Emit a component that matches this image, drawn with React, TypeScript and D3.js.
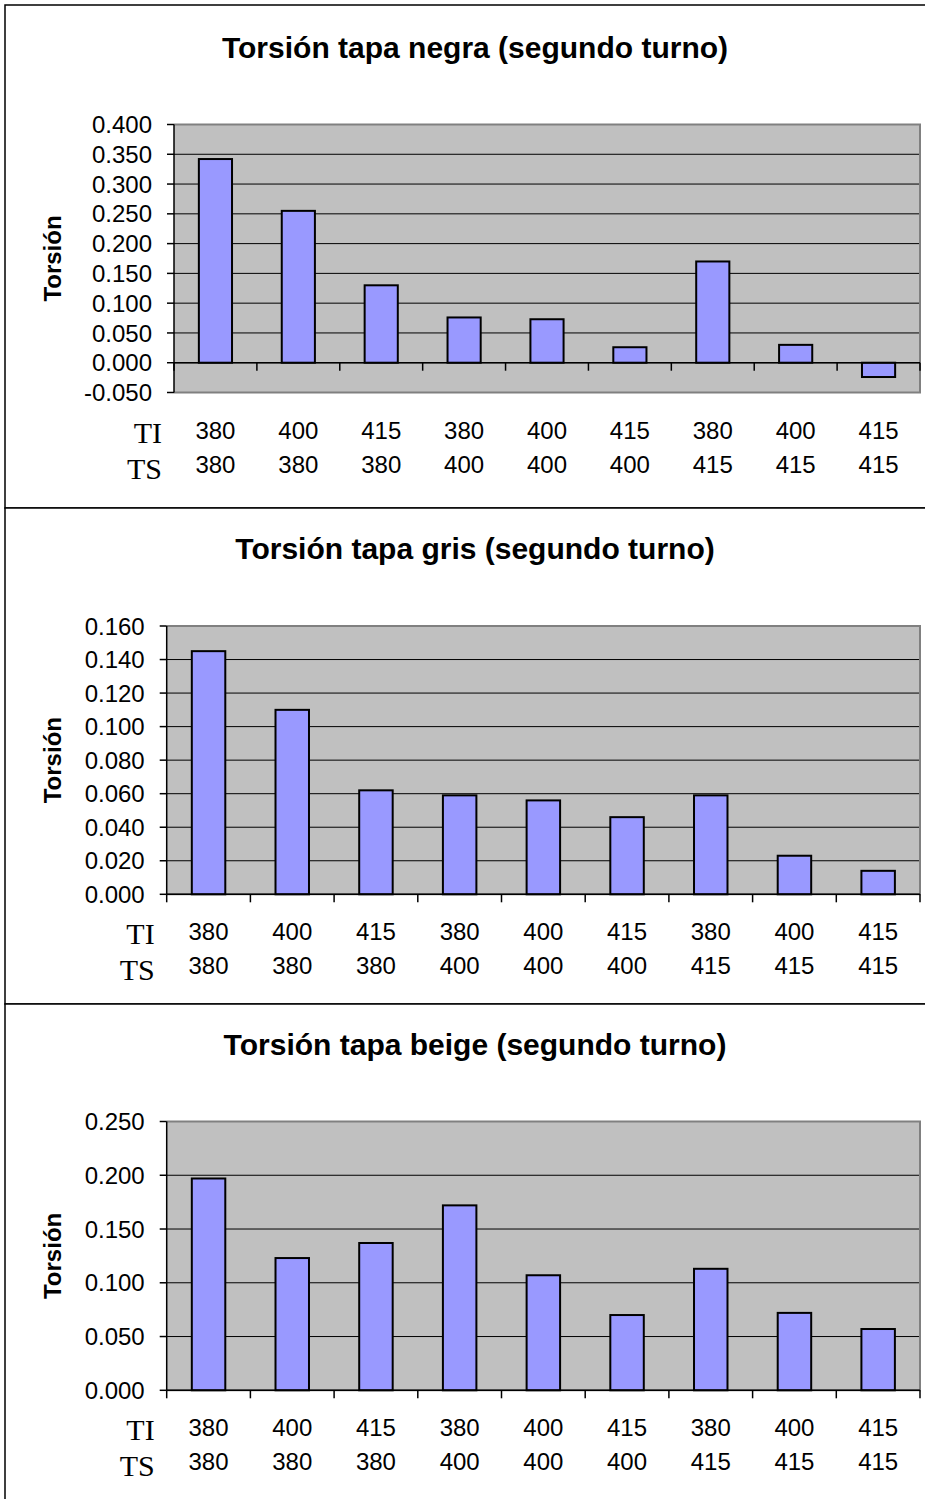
import React from "react";
import * as d3 from "d3";

const categoriesTI = ["380", "400", "415", "380", "400", "415", "380", "400", "415"];
const categoriesTS = ["380", "380", "380", "400", "400", "400", "415", "415", "415"];

const negraTitle = "Torsión tapa negra (segundo turno)";
const negraValues = [0.342, 0.255, 0.13, 0.076, 0.073, 0.026, 0.17, 0.03, -0.024];
const negraTicks = [-0.05, 0, 0.05, 0.1, 0.15, 0.2, 0.25, 0.3, 0.35, 0.4];

const grisTitle = "Torsión tapa gris (segundo turno)";
const grisValues = [0.145, 0.11, 0.062, 0.059, 0.056, 0.046, 0.059, 0.023, 0.014];
const grisTicks = [0, 0.02, 0.04, 0.06, 0.08, 0.1, 0.12, 0.14, 0.16];

const beigeTitle = "Torsión tapa beige (segundo turno)";
const beigeValues = [0.197, 0.123, 0.137, 0.172, 0.107, 0.07, 0.113, 0.072, 0.057];
const beigeTicks = [0, 0.05, 0.1, 0.15, 0.2, 0.25];

const yAxisTitle = "Torsión";
const rowLabels = ["TI", "TS"];

const W = 925;
const H = 1499;
const SANS = "'Liberation Sans', Arial, sans-serif";
const SERIF = "'Liberation Serif', 'Times New Roman', serif";

type ChartProps = {
  title: string;
  values: number[];
  ticks: number[];
  frameTop: number;
  frameBottom: number;
  left: number;
  top: number;
  bottom: number;
};

function Chart({ title, values, ticks, frameTop, frameBottom, left, top, bottom }: ChartProps) {
  const right = 920;
  const n = values.length;
  const x = d3
    .scaleBand<number>()
    .domain(d3.range(n))
    .range([left, right])
    .paddingInner(0.6)
    .paddingOuter(0.3);
  const step = (right - left) / n;
  const y = d3
    .scaleLinear()
    .domain([ticks[0], ticks[ticks.length - 1]])
    .range([bottom, top]);
  const f3 = d3.format(".3f");
  const fmt = (t: number) => f3(t).replace("\u2212", "-");
  const y0 = y(0);
  const centerX = (i: number) => (x(i) as number) + x.bandwidth() / 2;

  return (
    <g>
      <rect
        x={5}
        y={frameTop}
        width={W + 20}
        height={frameBottom - frameTop}
        fill="#fff"
        stroke="#000"
        strokeWidth={1.5}
      />
      <text
        x={475}
        y={top - 67}
        textAnchor="middle"
        fontFamily={SANS}
        fontWeight="bold"
        fontSize={30}
        fill="#000"
      >
        {title}
      </text>
      {/* plot background */}
      <rect x={left} y={top} width={right - left} height={bottom - top} fill="#c0c0c0" />
      {/* gridlines */}
      {ticks.slice(1, -1).map((t) => (
        <line key={"g" + t} x1={left} x2={right} y1={y(t)} y2={y(t)} stroke="#000" strokeWidth={1} />
      ))}
      {/* plot border */}
      <path
        d={`M${left},${top}H${right}V${bottom}H${left}`}
        fill="none"
        stroke="#808080"
        strokeWidth={2}
      />
      {/* bars */}
      {values.map((v, i) => (
        <rect
          key={"b" + i}
          x={x(i)}
          y={Math.min(y(v), y0)}
          width={x.bandwidth()}
          height={Math.abs(y(v) - y0)}
          fill="#9999ff"
          stroke="#000"
          strokeWidth={2}
        />
      ))}
      {/* y axis */}
      <line x1={left} x2={left} y1={top} y2={bottom} stroke="#000" strokeWidth={1.5} />
      {ticks.map((t) => (
        <g key={"yt" + t}>
          <line x1={left - 7} x2={left} y1={y(t)} y2={y(t)} stroke="#000" strokeWidth={1.5} />
          <text
            x={left - 22}
            y={y(t)}
            dy="0.36em"
            textAnchor="end"
            fontFamily={SANS}
            fontSize={24}
            fill="#000"
          >
            {fmt(t)}
          </text>
        </g>
      ))}
      {/* x axis */}
      <line x1={left} x2={right} y1={y0} y2={y0} stroke="#000" strokeWidth={1.5} />
      {d3.range(n + 1).map((i) => (
        <line
          key={"xt" + i}
          x1={left + i * step}
          x2={left + i * step}
          y1={y0}
          y2={y0 + 8}
          stroke="#000"
          strokeWidth={1.5}
        />
      ))}
      {/* category labels */}
      {categoriesTI.map((c, i) => (
        <text
          key={"ti" + i}
          x={centerX(i)}
          y={bottom + 46}
          textAnchor="middle"
          fontFamily={SANS}
          fontSize={24}
          fill="#000"
        >
          {c}
        </text>
      ))}
      {categoriesTS.map((c, i) => (
        <text
          key={"ts" + i}
          x={centerX(i)}
          y={bottom + 80}
          textAnchor="middle"
          fontFamily={SANS}
          fontSize={24}
          fill="#000"
        >
          {c}
        </text>
      ))}
      <text x={left - 12} y={bottom + 50} textAnchor="end" fontFamily={SERIF} fontSize={30} fill="#000">
        {rowLabels[0]}
      </text>
      <text x={left - 12} y={bottom + 86} textAnchor="end" fontFamily={SERIF} fontSize={30} fill="#000">
        {rowLabels[1]}
      </text>
      {/* y axis title */}
      <text
        transform={`translate(61,${(top + bottom) / 2}) rotate(-90)`}
        textAnchor="middle"
        fontFamily={SANS}
        fontWeight="bold"
        fontSize={24}
        fill="#000"
      >
        {yAxisTitle}
      </text>
    </g>
  );
}

export default function App() {
  return (
    <svg
      width={W}
      height={H}
      viewBox={`0 0 ${W} ${H}`}
      style={{ position: "absolute", left: 0, top: 0, background: "#fff" }}
    >
      <rect x={0} y={0} width={W} height={H} fill="#fff" />
      <Chart
        title={negraTitle}
        values={negraValues}
        ticks={negraTicks}
        frameTop={5}
        frameBottom={508}
        left={174}
        top={124.5}
        bottom={392.5}
      />
      <Chart
        title={grisTitle}
        values={grisValues}
        ticks={grisTicks}
        frameTop={508}
        frameBottom={1004}
        left={166.7}
        top={626}
        bottom={894.3}
      />
      <Chart
        title={beigeTitle}
        values={beigeValues}
        ticks={beigeTicks}
        frameTop={1004}
        frameBottom={1520}
        left={166.7}
        top={1121.5}
        bottom={1390.3}
      />
    </svg>
  );
}
